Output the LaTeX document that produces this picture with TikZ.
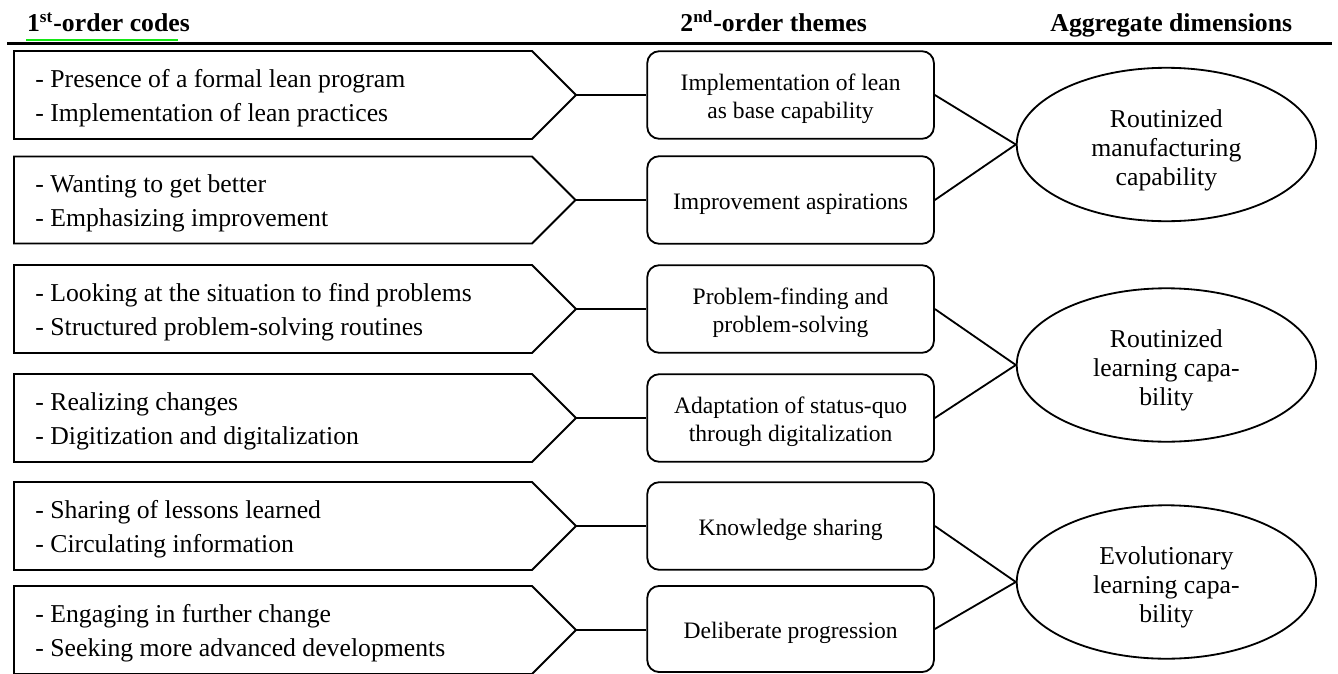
\documentclass[tikz,border=0pt]{standalone}
\usepackage{fontspec}
\setmainfont{Liberation Serif}
\usetikzlibrary{shapes.geometric,calc}
\definecolor{hlgreen}{RGB}{20,230,20}
\newcommand\ts{\rule{0pt}{11.5pt}}
\newcommand\as{\rule{0pt}{13.5pt}}
\tikzset{
  chevline/.style={draw=black, line width=0.85pt, line join=miter},
  codetext/.style={align=left, inner sep=0pt, anchor=west, font=\fontsize{12pt}{15.9pt}\selectfont},
  theme/.style={draw, line width=0.85pt, rounded corners=5.6pt, minimum width=133.8pt, minimum height=40.9pt, inner sep=0pt, align=center, font=\fontsize{11pt}{12.9pt}\selectfont},
  aggr/.style={draw, ellipse, line width=0.85pt, minimum width=139.7pt, minimum height=71.6pt, inner sep=0pt, align=center, font=\fontsize{12pt}{13.6pt}\selectfont},
  conn/.style={line width=0.85pt},
  header/.style={font=\fontsize{12pt}{14pt}\selectfont\bfseries, inner sep=0pt, anchor=base west},
}
\newcommand\chevbox[4]{%
  \draw[chevline] (14,#2) -- (532,#2) -- ({532+(#3-#2)/2},{(#2+#3)/2}) coordinate (#1) -- (532,#3) -- (14,#3) -- cycle;
  \node[codetext] (#1t) at (35,{(#2+#3)/2+3}) {#4};
}
\begin{document}
\begin{tikzpicture}[x=0.4667pt, y=-0.4667pt]
\useasboundingbox (0,0) rectangle (1338,673);
\clip (0,0) rectangle (1338,673);
% headers
\node[header] (h1) at (26.7,31.7) {1\textsuperscript{st}-order codes};
\node[header] (h2) at (680,31.7) {2\textsuperscript{nd}-order themes};
\node[header] (h3) at (1050,31.7) {Aggregate dimensions};
\draw[hlgreen, line width=0.8pt] (26,39.7) -- (178,39.7);
\draw[line width=1.6pt] (7,43.5) -- (1331.7,43.5);
% first-order codes
\chevbox{c1}{51}{139}{- Presence of a formal lean program\\- Implementation of lean practices}
\chevbox{c2}{156.5}{243.5}{- Wanting to get better\\- Emphasizing improvement}
\chevbox{c3}{265}{353}{- Looking at the situation to find problems\\- Structured problem-solving routines}
\chevbox{c4}{374}{462}{- Realizing changes\\- Digitization and digitalization}
\chevbox{c5}{482}{570}{- Sharing of lessons learned\\- Circulating information}
\chevbox{c6}{586}{674}{- Engaging in further change\\- Seeking more advanced developments}
% second-order themes
\node[theme] (t1) at (790.6,95) {\ts Implementation of lean\\as base capability};
\node[theme] (t2) at (790.6,200) {\ts Improvement aspirations};
\node[theme] (t3) at (790.6,309) {\ts Problem-finding and\\problem-solving};
\node[theme] (t4) at (790.6,418) {\ts Adaptation of status-quo\\through digitalization};
\node[theme] (t5) at (790.6,526) {\ts Knowledge sharing};
\node[theme, minimum height=40.2pt] (t6) at (790.6,629) {\ts Deliberate progression};
% aggregate dimensions
\node[aggr] (e1) at (1166.4,144.5) {\as Routinized\\manufacturing\\capability};
\node[aggr] (e2) at (1166.4,365) {\as Routinized\\learning capa-\\bility};
\node[aggr] (e3) at (1166.4,582) {\as Evolutionary\\learning capa-\\bility};
% connectors
\foreach \i in {1,...,6} {\draw[conn] (c\i) -- (c\i -| t\i.west);}
\draw[conn] (t1.east) -- (e1.west);
\draw[conn] (t2.east) -- (e1.west);
\draw[conn] (t3.east) -- (e2.west);
\draw[conn] (t4.east) -- (e2.west);
\draw[conn] (t5.east) -- (e3.west);
\draw[conn] (t6.east) -- (e3.west);
\end{tikzpicture}
\end{document}
